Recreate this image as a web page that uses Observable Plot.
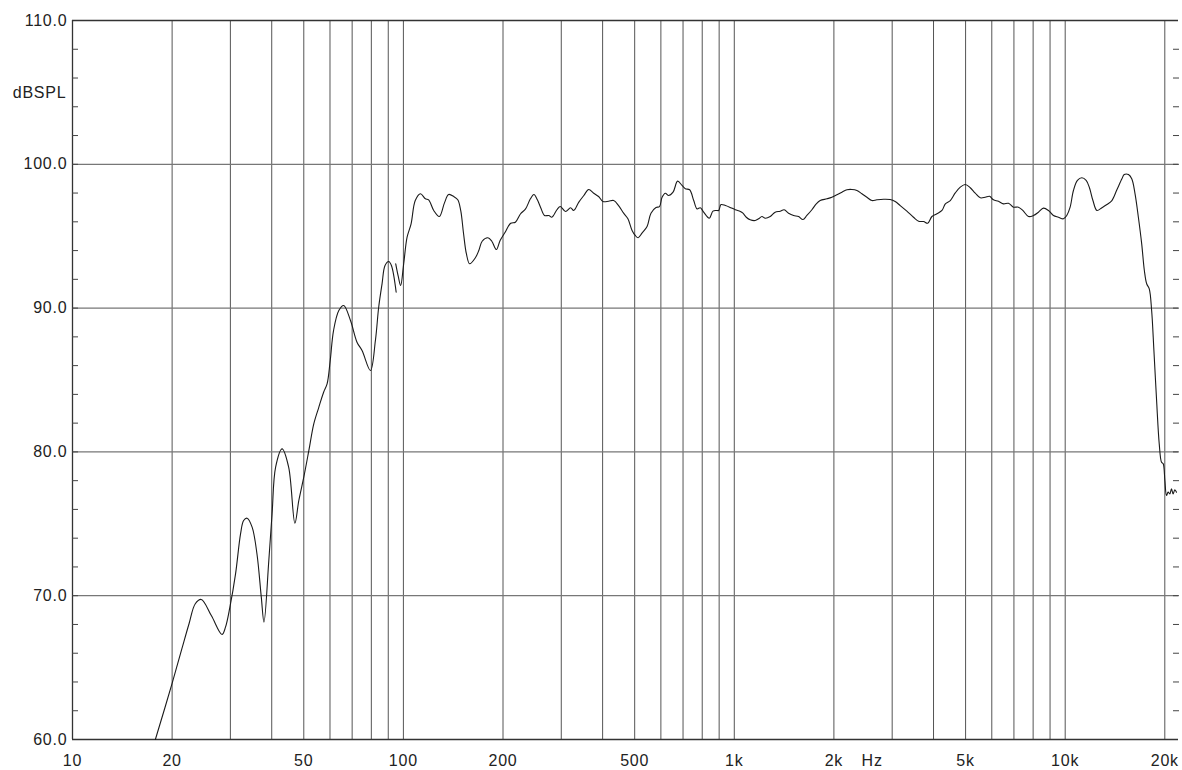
<!DOCTYPE html>
<html><head><meta charset="utf-8">
<script src="https://cdn.jsdelivr.net/npm/d3@7"></script>
<script src="https://cdn.jsdelivr.net/npm/@observablehq/plot@0.6"></script>
<style>
body{margin:0;background:#fff}
svg{display:block}
svg text{letter-spacing:0.8px}
</style></head>
<body><div id="chart"></div>
<script>
// Segment A (low-frequency sweep, up to ~95 Hz)
const freqA = [17.8, 20, 21.4, 22.5, 23.5, 24.5, 26.3, 28.3, 29.0, 29.9, 31.1, 32.2, 32.9, 33.7, 34.9, 36.1, 37.2, 37.9, 39.2, 40.1, 41.1, 43.0, 45.0, 47.0, 48.3, 50.0, 51.8, 53.6, 55.5, 57.4, 58.8, 60.1, 61.5, 63.8, 66.0, 69.2, 72.4, 75.0, 79.5, 82.3, 84.2, 86.2, 88.0, 90.3, 92.0, 95.1];
const dbA   = [60.0, 63.9, 66.3, 68.05, 69.44, 69.74, 68.6, 67.3, 67.81, 69.2, 71.52, 74.3, 75.23, 75.39, 74.77, 72.9, 69.9, 68.16, 72.45, 75.7, 78.94, 80.21, 78.94, 75.04, 76.62, 78.24, 80.1, 81.95, 83.1, 84.15, 84.73, 86.36, 88.44, 89.83, 90.18, 89.14, 87.63, 87.05, 85.66, 87.75, 90.06, 91.69, 92.96, 93.24, 92.96, 91.1];
// Segment B (main measurement, from ~95 Hz)
const freqB = [94.8, 96.5, 98.1, 100.2, 102.6, 105.5, 108.6, 112.6, 116.5, 119.2, 123.5, 128.4, 133, 137, 142, 146, 149, 152, 155, 158.6, 165, 169, 173, 180, 185, 191, 196, 203, 211, 218, 226, 234, 242, 248, 254, 260, 267, 275, 281, 291, 298, 309, 320, 327, 339, 351, 363, 376, 389, 401, 417, 432, 447, 463, 477, 491, 502, 512, 526, 545, 560, 580, 594, 605, 619, 633, 653, 674, 695, 711, 733, 754, 772, 789, 808, 840, 862, 882, 897, 912, 940, 968, 1007, 1043, 1062, 1087, 1117, 1157, 1184, 1212, 1241, 1284, 1329, 1376, 1415, 1459, 1511, 1564, 1612, 1657, 1716, 1769, 1818, 1905, 1972, 2042, 2115, 2190, 2267, 2347, 2430, 2516, 2605, 2697, 2825, 2958, 3064, 3173, 3323, 3480, 3607, 3734, 3840, 3956, 4096, 4243, 4343, 4495, 4654, 4819, 4989, 5165, 5348, 5537, 5733, 5905, 6070, 6284, 6508, 6738, 6976, 7222, 7446, 7746, 8020, 8303, 8597, 8901, 9215, 9541, 9878, 10110, 10350, 10590, 10890, 11230, 11570, 11840, 12130, 12470, 12910, 13370, 13840, 14330, 14840, 15080, 15530, 15890, 16260, 16640, 17030, 17350, 17630, 17950, 18250, 18540, 18890, 19240, 19550, 19780, 20010, 20240, 20470, 20710, 20950, 21190, 21440, 21700];
const dbB   = [93.08, 92.2, 91.57, 93.08, 94.93, 95.86, 97.48, 97.95, 97.6, 97.53, 96.79, 96.37, 97.3, 97.9, 97.76, 97.53, 96.79, 95.17, 93.78, 93.08, 93.5, 94.0, 94.65, 94.89, 94.65, 94.07, 94.7, 95.28, 95.9, 95.97, 96.56, 96.9, 97.6, 97.9, 97.53, 96.98, 96.44, 96.44, 96.32, 96.84, 97.07, 96.72, 96.98, 96.79, 97.37, 97.83, 98.25, 97.99, 97.76, 97.41, 97.43, 97.48, 97.13, 96.6, 96.21, 95.4, 95.05, 94.89, 95.21, 95.67, 96.6, 97.0, 97.05, 97.71, 97.99, 97.83, 98.06, 98.83, 98.53, 98.3, 98.23, 97.48, 96.9, 96.98, 96.67, 96.25, 96.74, 96.79, 96.79, 97.2, 97.13, 97.02, 96.84, 96.72, 96.6, 96.32, 96.14, 96.09, 96.21, 96.37, 96.25, 96.37, 96.67, 96.74, 96.84, 96.6, 96.44, 96.37, 96.16, 96.44, 96.84, 97.25, 97.48, 97.6, 97.71, 97.88, 98.06, 98.23, 98.25, 98.18, 97.95, 97.71, 97.48, 97.53, 97.57, 97.55, 97.41, 97.13, 96.74, 96.32, 96.04, 96.02, 95.9, 96.37, 96.56, 96.79, 97.25, 97.48, 98.01, 98.41, 98.6, 98.37, 97.99, 97.67, 97.71, 97.78, 97.53, 97.43, 97.25, 97.29, 97.02, 97.02, 96.79, 96.37, 96.44, 96.67, 96.95, 96.79, 96.44, 96.32, 96.21, 96.44, 97.02, 98.18, 98.88, 99.06, 98.88, 98.37, 97.48, 96.79, 96.98, 97.2, 97.48, 98.23, 98.99, 99.29, 99.29, 98.99, 97.95, 96.32, 94.47, 92.6, 91.69, 91.34, 89.83, 87.05, 83.57, 80.56, 79.28, 79.17, 78.0, 76.97, 77.2, 77.08, 77.43, 77.08, 77.36, 77.2];

const gridFreqs = [20, 30, 40, 50, 60, 70, 80, 90, 100, 200, 300, 400, 500, 600, 700, 800, 900, 1000, 2000, 3000, 4000, 5000, 6000, 7000, 8000, 9000, 10000, 20000];
const gridDb = [70, 80, 90, 100];
const yTicks = [60, 70, 80, 90, 100, 110];
const minorDb = [62, 64, 66, 68, 70, 72, 74, 76, 78, 80, 82, 84, 86, 88, 90, 92, 94, 96, 98, 100, 102, 104, 106, 108];
const xTickValues = [10, 20, 50, 100, 200, 500, 1000, 2000, 5000, 10000, 20000];
const xTickLabels = ["10", "20", "50", "100", "200", "500", "1k", "2k", "5k", "10k", "20k"];
const unitX = {text: "Hz", f: 2610};
const unitY = {text: "dBSPL", db: 105};

const xLabels = xTickValues.map((v, i) => ({f: v, text: xTickLabels[i]}));

const curveData = [
  ...freqA.map((f, i) => ({f, db: dbA[i], seg: "A"})),
  ...freqB.map((f, i) => ({f, db: dbB[i], seg: "B"}))
];

const chart = Plot.plot({
  width: 1182, height: 770,
  marginTop: 20, marginLeft: 72, marginRight: 4, marginBottom: 31,
  style: {fontFamily: "'Liberation Sans', Arial, sans-serif", fontSize: "16px", color: "#222", background: "#fff"},
  x: {type: "log", domain: [10, 22000], label: null, axis: null},
  y: {domain: [60, 110], label: null},
  marks: [
    Plot.ruleX(gridFreqs, {stroke: "#555", strokeWidth: 1}),
    Plot.ruleY(gridDb, {stroke: "#777", strokeWidth: 1.3}),
    Plot.ruleY([60, 110], {stroke: "#333", strokeWidth: 1.3}),
    Plot.ruleX([10], {stroke: "#333", strokeWidth: 1.3}),
    Plot.axisY({anchor: "left", ticks: yTicks, tickFormat: d => d.toFixed(1), tickSize: 0, tickPadding: 5, fontSize: 16, label: null}),
    Plot.axisY({anchor: "left", ticks: minorDb, tickFormat: () => "", tickSize: -6, stroke: "#444", label: null}),
    Plot.axisY({anchor: "right", ticks: minorDb, tickFormat: () => "", tickSize: -6, stroke: "#444", label: null}),
    Plot.text([unitY], {x: () => 10, y: "db", text: "text", textAnchor: "end", dx: -6, fontSize: 16}),
    Plot.text(xLabels, {x: "f", y: () => 60, text: "text", dy: 21, fontSize: 16, fill: "#222"}),
    Plot.text([unitX], {x: "f", y: () => 60, text: "text", dy: 21, fontSize: 16, fill: "#222"}),
    Plot.line(curveData, {x: "f", y: "db", z: "seg", curve: "catmull-rom", stroke: "#1a1a1a", strokeWidth: 1.1})
  ]
});
document.getElementById("chart").append(chart);
</script>
</body></html>
